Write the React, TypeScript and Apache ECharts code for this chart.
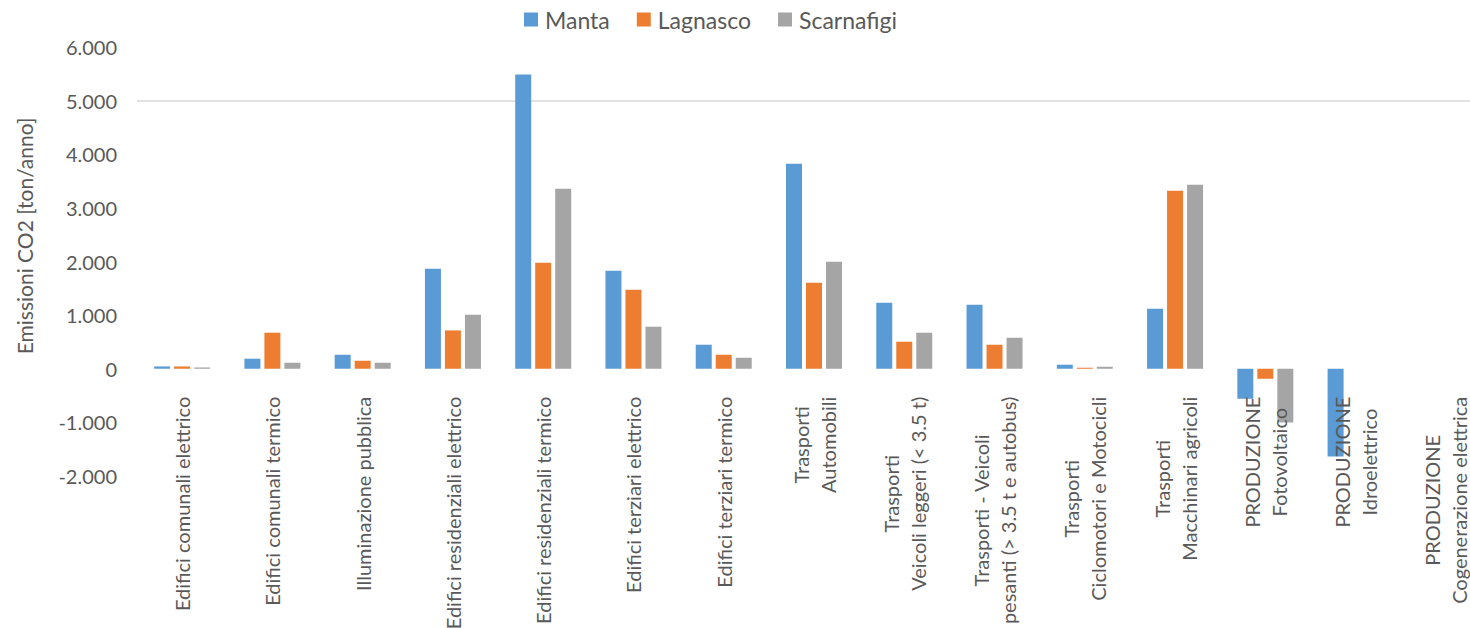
import React, { useEffect, useRef } from "react";
import * as echarts from "echarts";

// Emission categories (two-line labels split with \n)
const categories: string[] = [
  "Edifici comunali elettrico",
  "Edifici comunali termico",
  "Illuminazione pubblica",
  "Edifici residenziali elettrico",
  "Edifici residenziali termico",
  "Edifici terziari elettrico",
  "Edifici terziari termico",
  "Trasporti\nAutomobili",
  "Trasporti\nVeicoli leggeri (< 3.5 t)",
  "Trasporti - Veicoli\npesanti (> 3.5 t e autobus)",
  "Trasporti\nCiclomotori e Motocicli",
  "Trasporti\nMacchinari agricoli",
  "PRODUZIONE\nFotovoltaico",
  "PRODUZIONE\nIdroelettrico",
  "PRODUZIONE\nCogenerazione elettrica",
];

const seriesNames: string[] = ["Manta", "Lagnasco", "Scarnafigi"];

// CO2 emissions in ton/anno per municipality
const manta: number[] = [43, 187, 261, 1866, 5485, 1828, 448, 3825, 1231, 1194, 75, 1119, -560, -1636, 0];
const lagnasco: number[] = [43, 672, 149, 715, 1978, 1474, 261, 1604, 504, 448, 19, 3321, -187, 0, 0];
const scarnafigi: number[] = [24, 112, 112, 1007, 3358, 784, 205, 1996, 672, 578, 37, 3433, -1001, 0, 0];

const seriesColors: string[] = ["#5B9BD5", "#ED7D31", "#A5A5A5"];

const yMin = -2000;
const yMax = 6000;
const yInterval = 1000;
const yTitle = "Emissioni CO2 [ton/anno]";

const FONT = "Lato, 'Liberation Sans', Arial, sans-serif";
const TEXT_COLOR = "#595959";

const GRID_TOP = 47;
const GRID_BOTTOM = 152;
const CHART_H = 628;

// Italian style thousands separator: 1000 -> "1.000"
function formatThousands(v: number): string {
  const sign = v < 0 ? "-" : "";
  const s = String(Math.abs(Math.round(v)));
  return sign + s.replace(/\B(?=(\d{3})+(?!\d))/g, ".");
}

export default function App() {
  const ref = useRef<HTMLDivElement>(null);

  useEffect(() => {
    document.body.style.margin = "0";
    if (!ref.current) return;
    const chart = echarts.init(ref.current, null, { renderer: "svg" });

    const values = [manta, lagnasco, scarnafigi];
    // only the 5.000 gridline is drawn
    const tickCount = (yMax - yMin) / yInterval + 1;
    const gridColors: string[] = [];
    for (let i = 0; i < tickCount; i++) {
      gridColors.push(yMin + i * yInterval === 5000 ? "#D9D9D9" : "rgba(0,0,0,0)");
    }

    // category labels hang just below the zero line
    const plotH = CHART_H - GRID_TOP - GRID_BOTTOM;
    const zeroToBottom = (plotH * (0 - yMin)) / (yMax - yMin);
    const labelMargin = 28 - zeroToBottom;

    chart.setOption({
      animation: false,
      color: seriesColors,
      legend: {
        data: seriesNames,
        left: 519,
        top: 3,
        icon: "rect",
        itemWidth: 14,
        itemHeight: 14,
        itemGap: 27,
        textStyle: {
          fontFamily: FONT,
          fontSize: 23,
          color: TEXT_COLOR,
          padding: [0, 0, 0, 2],
        },
      },
      grid: {
        left: 137,
        right: -21,
        top: GRID_TOP,
        bottom: GRID_BOTTOM,
        containLabel: false,
        outerBoundsMode: "none",
      },
      xAxis: {
        type: "category",
        data: categories,
        z: 5,
        axisLine: { show: false, onZero: false },
        axisTick: { show: false },
        axisLabel: {
          interval: 0,
          rotate: 90,
          margin: labelMargin,
          formatter: (v: string) =>
            v
              .split("\n")
              .map((l) => `{c|${l}}`)
              .join("\n"),
          rich: {
            c: {
              align: "center",
              fontFamily: FONT,
              fontSize: 20,
              lineHeight: 27,
              color: TEXT_COLOR,
            },
          },
        },
      },
      yAxis: {
        type: "value",
        min: yMin,
        max: yMax,
        interval: yInterval,
        axisLine: { show: false },
        axisTick: { show: false },
        splitLine: { show: true, lineStyle: { color: gridColors, width: 1.5 } },
        axisLabel: {
          margin: 20,
          fontFamily: FONT,
          fontSize: 20,
          color: TEXT_COLOR,
          formatter: (v: number) => formatThousands(v),
        },
      },
      graphic: [
        {
          type: "text",
          x: 24,
          y: 236,
          rotation: Math.PI / 2,
          style: {
            text: yTitle,
            fontFamily: FONT,
            fontSize: 21,
            fill: TEXT_COLOR,
            align: "center",
            verticalAlign: "middle",
          },
        },
      ],
      series: seriesNames.map((name, i) => ({
        name,
        type: "bar",
        data: values[i],
        barWidth: 16,
        barGap: "25%",
        itemStyle: { color: seriesColors[i] },
      })),
    });

    return () => chart.dispose();
  }, []);

  return <div ref={ref} style={{ width: 1470, height: 628 }} />;
}
